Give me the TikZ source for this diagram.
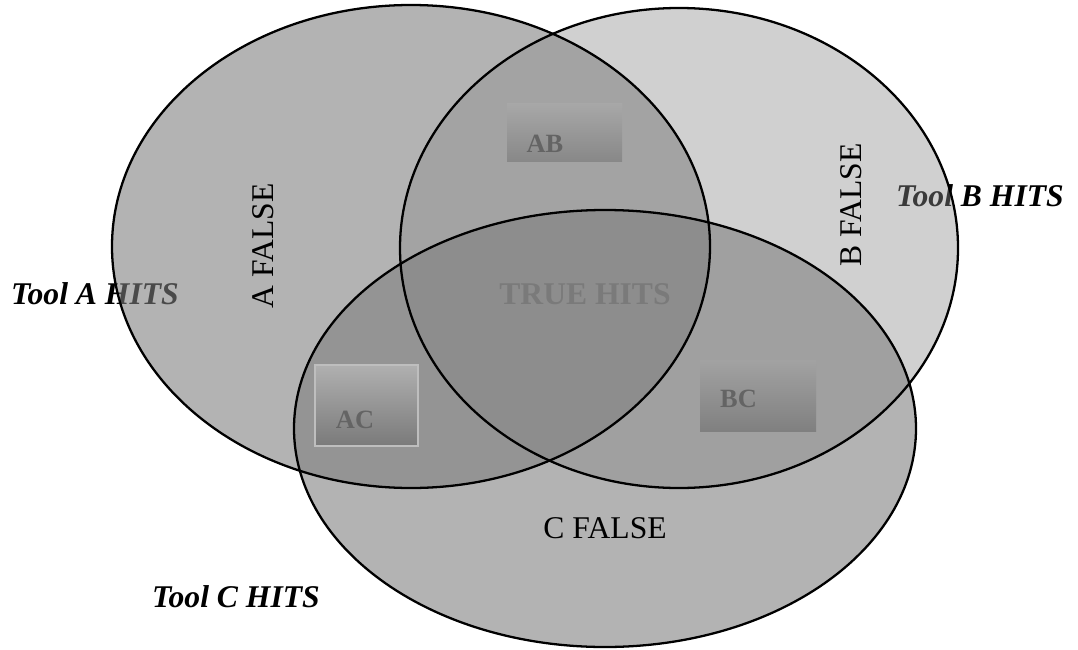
\documentclass[tikz,border=0pt]{standalone}
\usepackage{fontspec}
\setmainfont{Liberation Serif}
\begin{document}
\begin{tikzpicture}[x=0.02cm,y=-0.02cm,
  lbl/.style={inner sep=0pt,font=\fontsize{18}{20}\selectfont},
  toollbl/.style={lbl,font=\fontsize{18}{20}\selectfont\bfseries\itshape},
  setA/.style={fill={rgb,255:red,126;green,126;blue,126},fill opacity=0.588},
  setB/.style={fill={rgb,255:red,142;green,142;blue,142},fill opacity=0.41},
  outline/.style={draw=black,line width=1.3pt},
  pairtxt/.style={inner sep=0pt,text={rgb,255:red,100;green,100;blue,100},font=\fontsize{15}{17}\selectfont\bfseries}
]
\useasboundingbox (0,0) rectangle (1078,649);

% labels of the three tools, partly covered by the sets
\node[toollbl] (toolA) at (95,294) {Tool A HITS};
\node[toollbl] (toolB) at (980,196) {Tool B HITS};
\node[toollbl] (toolC) at (236,597) {Tool C HITS};

% translucent sets
\fill[setA] (411,246.5) ellipse [x radius=299, y radius=241.5];
\fill[setB] (679,248) ellipse [x radius=279, y radius=240];
\fill[setA] (605,428.5) ellipse [x radius=311, y radius=218.5];

% outlines on top
\draw[outline] (411,246.5) ellipse [x radius=299, y radius=241.5];
\draw[outline] (679,248) ellipse [x radius=279, y radius=240];
\draw[outline] (605,428.5) ellipse [x radius=311, y radius=218.5];

% pairwise overlap boxes
\shade[top color={rgb,255:red,168;green,168;blue,168},bottom color={rgb,255:red,136;green,136;blue,136}]
  (507,103) rectangle (622,161);
\shade[top color={rgb,255:red,176;green,176;blue,176},bottom color={rgb,255:red,122;green,122;blue,122},
  draw={rgb,255:red,190;green,190;blue,190},line width=0.8pt]
  (315,365) rectangle (418,446);
\shade[top color={rgb,255:red,162;green,162;blue,162},bottom color={rgb,255:red,128;green,128;blue,128}]
  (700,360) rectangle (816,431);

\node[pairtxt] (ab) at (545,143.5) {AB};
\node[pairtxt] (ac) at (355,419.5) {AC};
\node[pairtxt] (bc) at (738.5,398.5) {BC};

% region labels
\node[lbl,rotate=90] (afalse) at (263,246) {A FALSE};
\node[lbl,rotate=90] (bfalse) at (851,205) {B FALSE};
\node[lbl] (cfalse) at (605,528) {C FALSE};
\node[lbl,font=\fontsize{18}{20}\selectfont\bfseries,text={rgb,255:red,122;green,122;blue,122}] (true) at (585,294) {TRUE HITS};
\end{tikzpicture}
\end{document}
